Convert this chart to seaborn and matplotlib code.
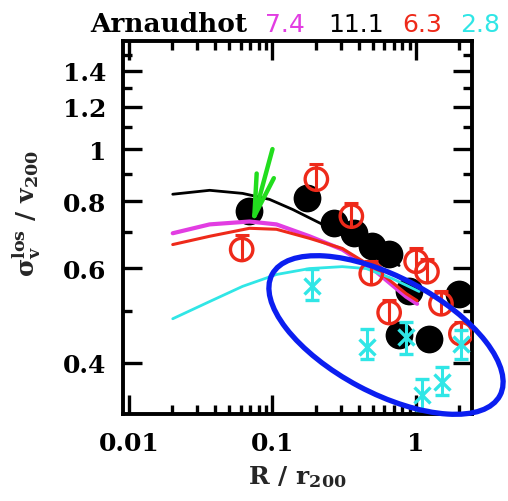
import numpy as np
import pandas as pd
import matplotlib
matplotlib.use("Agg")
import matplotlib.pyplot as plt
from matplotlib.patches import Ellipse
from matplotlib.ticker import FixedLocator, NullFormatter, FixedFormatter
import seaborn as sns

# ---- model curves (R/r200, sigma_los/v200) ----
curve_x = [0.0202, 0.0365, 0.0619, 0.0953, 0.138, 0.223, 0.371, 0.60, 0.762]
black_y = [0.824, 0.838, 0.827, 0.806, 0.772, 0.724, 0.673, 0.628, 0.607]

mag_x = [0.0202, 0.0365, 0.0692, 0.1066, 0.181, 0.306, 0.527, 0.852, 1.016]
mag_y = [0.697, 0.724, 0.733, 0.724, 0.688, 0.650, 0.591, 0.531, 0.515]
red_y = [0.664, 0.688, 0.712, 0.709, 0.682, 0.653, 0.597, 0.538, 0.522]

cyan_x = [0.0202, 0.0365, 0.0619, 0.1066, 0.181, 0.306, 0.45, 0.681, 1.049]
cyan_y = [0.483, 0.520, 0.555, 0.584, 0.599, 0.604, 0.599, 0.574, 0.543]

# ---- observed profiles ----
blk_pts_x = [0.069, 0.175, 0.27, 0.371, 0.495, 0.649, 0.894, 0.762, 1.23, 1.99]
blk_pts_y = [0.766, 0.81, 0.727, 0.697, 0.659, 0.637, 0.543, 0.451, 0.443, 0.536]

red_pts_x = [0.061, 0.202, 0.354, 0.487, 1.0, 1.19, 0.649, 1.49, 2.05]
red_pts_y = [0.650, 0.879, 0.750, 0.586, 0.618, 0.591, 0.496, 0.515, 0.453]
red_pts_hi = [0.691, 0.937, 0.793, 0.618, 0.653, 0.623, 0.524, 0.543, 0.477]

cy_pts_x = [0.187, 0.457, 0.853, 1.10, 1.51, 2.05]
cy_pts_y = [0.555, 0.428, 0.447, 0.348, 0.368, 0.434]
cy_pts_hi = [0.597, 0.463, 0.477, 0.373, 0.393, 0.461]
cy_pts_lo = [0.524, 0.407, 0.416, 0.327, 0.348, 0.407]

y_major = [0.4, 0.6, 0.8, 1.0, 1.2, 1.4]
y_major_labels = ["0.4", "0.6", "0.8", "1", "1.2", "1.4"]
y_minor = [0.5, 0.7, 0.9, 1.1, 1.3, 1.5]
x_major = [0.01, 0.1, 1.0]
x_major_labels = ["0.01", "0.1", "1"]

title_parts = ["Arnaudhot", "7.4", "11.1", "6.3", "2.8"]

BLACK = "#000000"
MAGENTA = "#e23de2"
RED = "#ee2a1a"
CYAN = "#30e6e6"
GREEN = "#22dd1e"
BLUE = "#0b1ef0"

sns.set_style("ticks")
plt.rcParams["font.family"] = ["DejaVu Serif", "DejaVu Sans"]
plt.rcParams["font.weight"] = "bold"
plt.rcParams["mathtext.fontset"] = "dejavuserif"

fig = plt.figure(figsize=(5.08, 5.02), dpi=100)
ax = fig.add_axes([123 / 508, 1 - 415 / 502, (472 - 123) / 508, (415 - 42) / 502])

df_blk_pts = pd.DataFrame({"x": blk_pts_x, "y": blk_pts_y})
sns.scatterplot(data=df_blk_pts, x="x", y="y", ax=ax, color=BLACK, s=400,
                edgecolor=BLACK, linewidth=0, zorder=2, legend=False)

df_black = pd.DataFrame({"x": curve_x, "y": black_y})
df_mag = pd.DataFrame({"x": mag_x, "y": mag_y})
df_red = pd.DataFrame({"x": mag_x, "y": red_y})
df_cyan = pd.DataFrame({"x": cyan_x, "y": cyan_y})
for d, c, lw in [(df_black, BLACK, 2.0), (df_mag, MAGENTA, 3.0),
                 (df_red, RED, 2.2), (df_cyan, CYAN, 2.0)]:
    sns.lineplot(data=d, x="x", y="y", ax=ax, color=c, lw=lw, sort=False,
                 estimator=None, zorder=3, legend=False)

# red open circles with upward error bars
ax.vlines(red_pts_x, red_pts_y, red_pts_hi, color=RED, lw=2.2, zorder=4)
ax.scatter(red_pts_x, red_pts_hi, marker="_", s=110, color=RED, linewidths=2.2, zorder=4)
ax.scatter(red_pts_x, red_pts_y, marker="o", s=260, facecolors="none",
           edgecolors=RED, linewidths=2.4, zorder=4)
ax.scatter(red_pts_x, red_pts_y, marker="|", s=260, color=RED, linewidths=2.2, zorder=4)

# cyan crosses with error bars
cy_err = [np.array(cy_pts_y) - np.array(cy_pts_lo), np.array(cy_pts_hi) - np.array(cy_pts_y)]
ax.errorbar(cy_pts_x, cy_pts_y, yerr=cy_err, fmt="x", color=CYAN, ms=11, mew=2.4,
            elinewidth=2.2, capsize=5, capthick=2.2, zorder=5)

ax.set_xscale("log")
ax.set_yscale("log")
ax.set_xlim(0.0091, 2.45)
ax.set_ylim(0.321, 1.59)

ax.yaxis.set_major_locator(FixedLocator(y_major))
ax.yaxis.set_major_formatter(FixedFormatter(y_major_labels))
ax.yaxis.set_minor_locator(FixedLocator(y_minor))
ax.yaxis.set_minor_formatter(NullFormatter())
ax.xaxis.set_major_locator(FixedLocator(x_major))
ax.xaxis.set_major_formatter(FixedFormatter(x_major_labels))

ax.tick_params(which="both", direction="in", top=True, right=True, width=2.4,
               labelsize=18, colors="black")
ax.tick_params(which="major", length=14, pad=12)
ax.tick_params(which="minor", length=6.5)
for lab in ax.get_xticklabels() + ax.get_yticklabels():
    lab.set_fontweight("bold")
for sp in ax.spines.values():
    sp.set_linewidth(2.8)
    sp.set_color("black")

ax.set_xlabel(r"$\mathbf{R\ /\ r_{200}}$", fontsize=18, labelpad=6)
ax.set_ylabel(r"$\mathbf{\sigma_v^{los}\ /\ v_{200}}$", fontsize=18)
ax.yaxis.set_label_coords(-0.23, 0.54)

# header
title_x = [90, 265, 328, 402, 460]
title_colors = [BLACK, MAGENTA, BLACK, RED, CYAN]
title_fams = [["DejaVu Serif"], ["DejaVu Sans"], ["DejaVu Sans"], ["DejaVu Sans"], ["DejaVu Sans"]]
title_sizes = [19, 18, 18, 18, 18]
for t, px, c, fam, fs in zip(title_parts, title_x, title_colors, title_fams, title_sizes):
    fig.text(px / 508, 1 - 32 / 502, t, color=c, fontsize=fs, family=fam,
             fontweight="bold" if t == "Arnaudhot" else "medium", ha="left", va="baseline")

# green arrow
ax.annotate("", xy=(0.0715, 0.718), xytext=(0.1, 1.0),
            arrowprops=dict(arrowstyle="->,head_length=1.5,head_width=0.32",
                            color=GREEN, lw=3.2, mutation_scale=20, shrinkA=0, shrinkB=0),
            zorder=7)

# blue highlight ellipse
ell = Ellipse((3.86, (502 - 336) / 100), 2.58, 1.16, angle=-28,
              transform=fig.dpi_scale_trans, fill=False, edgecolor=BLUE, lw=3.8,
              clip_on=False, zorder=8)
ax.add_patch(ell)

fig.savefig("out.png", dpi=100)
